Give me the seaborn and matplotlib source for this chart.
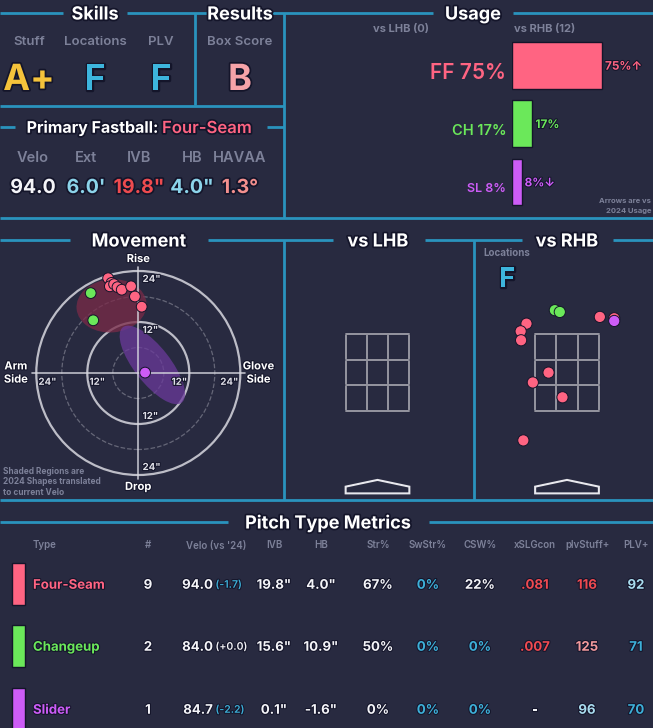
import numpy as np
import pandas as pd
import matplotlib
matplotlib.use('Agg')
import matplotlib.pyplot as plt
import matplotlib.patheffects as pe
from matplotlib.patches import Ellipse, Circle, Polygon, Rectangle
import seaborn as sns

# ---------------- data ----------------
pitch_codes = ['FF', 'CH', 'SL']
pitch_names = ['Four-Seam', 'Changeup', 'Slider']
pitch_colors = ['#ff6482', '#6be85a', '#cd5cf7']

# skills / results grades
grade_labels = ['Stuff', 'Locations', 'PLV']
grade_values = ['A+', 'F', 'F']
box_score = 'B'

# primary fastball summary
fb_labels = ['Velo', 'Ext', 'IVB', 'HB', 'HAVAA']
fb_values = ['94.0', "6.0'", '19.8"', '4.0"', '1.3°']

# usage vs RHB (%)
usage_rhb = [75, 17, 8]
usage_arrows = ['↑', '', '↓']
n_lhb = 0
n_rhb = 12

# movement: horizontal break (arm side +) and induced vertical break, inches
ff_hb = [7.1, 6.3, 6.7, 5.7, 4.9, 3.9, 1.7, 0.8, -0.8]
ff_ivb = [22.3, 21.2, 20.4, 20.9, 20.2, 19.6, 20.4, 18.0, 15.6]
ch_hb = [11.2, 10.6]
ch_ivb = [18.8, 12.4]
sl_hb = [-1.6]
sl_ivb = [0.1]

# 2024 shapes (center hb, center ivb, width, height, angle)
shape_ff = [6.3, 15.8, 16.5, 12.5, -5]
shape_sl = [-3.3, 1.9, 22.5, 8.5, 52]

# pitch locations vs RHB (plate_x, plate_z in ft)
ff_px = [0.73, 1.05, -0.90, -1.03, -1.02, -0.41, -0.76, -0.10, -0.97]
ff_pz = [3.69, 3.66, 3.54, 3.37, 3.17, 2.45, 2.23, 1.90, 0.94]
ch_px = [-0.27, -0.16]
ch_pz = [3.84, 3.80]
sl_px = [1.05]
sl_pz = [3.60]
loc_grade = 'F'

# pitch type metrics table
tbl_headers = ['Type', '#', "Velo (vs '24)", 'IVB', 'HB', 'Str%', 'SwStr%',
               'CSW%', 'xSLGcon', 'plvStuff+', 'PLV+']
tbl_count = [9, 2, 1]
tbl_velo = [94.0, 84.0, 84.7]
tbl_velo_diff = [-1.7, 0.0, -2.2]
tbl_ivb = [19.8, 15.6, 0.1]
tbl_hb = [4.0, 10.9, -1.6]
tbl_str = [67, 50, 0]
tbl_swstr = [0, 0, 0]
tbl_csw = [22, 0, 0]
tbl_xslg = ['.081', '.007', '-']
tbl_stuff = [116, 125, 96]
tbl_plv = [92, 71, 70]

# ---------------- style ----------------
BG = '#282a40'
LINE = '#2a93bd'
DARK = '#14152a'
GREY = '#7d8199'
WHITE = '#f4f4f8'
BLUE = '#3db0d8'
LBLUE = '#a9dcee'
RED = '#f04a50'
PINK = '#f39a9c'

sns.set_theme(style='dark', rc={'axes.facecolor': 'none', 'figure.facecolor': BG})
plt.rcParams['font.family'] = ['Inter', 'DejaVu Sans']

W, H = 653, 728
fig = plt.figure(figsize=(W / 100, H / 100), dpi=100)
fig.patch.set_facecolor(BG)

stroke = [pe.withStroke(linewidth=2.5, foreground=DARK)]
thin = [pe.withStroke(linewidth=1.5, foreground=DARK)]


def fax(x0, y0, x1, y1):
    ax = fig.add_axes([x0 / W, 1 - y1 / H, (x1 - x0) / W, (y1 - y0) / H])
    ax.set_facecolor('none')
    return ax


bg = fig.add_axes([0, 0, 1, 1])
bg.set_xlim(0, W)
bg.set_ylim(H, 0)
bg.axis('off')


def txt(x, y, s, size, **kw):
    # y is the visual centre of the capitals, in pixels from the top
    base = y + 0.36 * size * 100 / 72
    return bg.text(x, base, s, fontsize=size, va='baseline', **kw)


def hline(y, x0, x1):
    bg.plot([x0, x1], [y, y], color=LINE, lw=2, solid_capstyle='butt')


def vline(x, y0, y1):
    bg.plot([x, x], [y0, y1], color=LINE, lw=2, solid_capstyle='butt')


def title(x, y, s):
    txt(x, y, s, 13, ha='center', color='white', fontweight='bold', path_effects=stroke)


# ---- frame lines ----
hline(13, 0, 63); hline(13, 127, 210); hline(13, 270, 433); hline(13, 513, W)
vline(195, 13, 105); vline(284, 13, 218)
hline(106, 0, 284)
hline(127, 0, 15); hline(127, 267, 284)
hline(218, 0, W)
hline(240, 0, 70); hline(240, 208, 333); hline(240, 425, 522); hline(240, 613, W)
vline(284, 240, 500); vline(473.5, 240, 500)
hline(500, 0, W)
hline(522, 0, 228); hline(522, 429, W)

title(95, 13, 'Skills')
title(240, 13, 'Results')
title(473, 13, 'Usage')
title(139, 240, 'Movement')
title(378, 240, 'vs LHB')
title(567, 240, 'vs RHB')
title(328, 522, 'Pitch Type Metrics')

# ---- skills ----
grade_colors = {'A+': '#f5c33b', 'F': '#3db5dd', 'B': '#f6a3a8'}
for x, lab, g in zip([29, 95, 161], grade_labels, grade_values):
    txt(x, 40, lab, 9.5, ha='center', color=GREY, fontweight='semibold')
    txt(x, 77, g, 26, ha='center', color=grade_colors[g], fontweight='bold', path_effects=stroke)
txt(240, 40, 'Box Score', 9.5, ha='center', color=GREY, fontweight='semibold')
txt(240, 77, box_score, 26, ha='center', color=grade_colors[box_score],
    fontweight='bold', path_effects=stroke)

txt(162, 127, 'Primary Fastball: ', 11.5, ha='right', color='white',
    fontweight='bold', path_effects=stroke)
txt(162, 127, pitch_names[0], 12, ha='left', color=pitch_colors[0],
    fontweight='semibold', path_effects=stroke)

fb_colors = [WHITE, '#8cd4ea', '#ee4b4f', '#8cd4ea', '#f4908e']
for x, lab, v, c in zip([33, 86, 139, 192, 240], fb_labels, fb_values, fb_colors):
    txt(x, 157, lab, 10.5, ha='center', color=GREY, fontweight='semibold')
    txt(x, 186, v, 14, ha='center', color=c, fontweight='bold', path_effects=stroke)

# ---- usage ----
txt(401, 28, f'vs LHB ({n_lhb})', 8, ha='center', color=GREY, fontweight='bold')
txt(514, 28, f'vs RHB ({n_rhb})', 8, ha='left', color=GREY, fontweight='bold')

us = fax(512, 36, 632, 211)
usage_df = pd.DataFrame({'pitch': pitch_codes, 'usage': usage_rhb})
sns.barplot(data=usage_df, x='usage', y='pitch', hue='pitch', palette=pitch_colors,
            width=0.8, legend=False, ax=us, edgecolor=DARK, linewidth=1, saturation=1)
us.set_xlim(0, 100)
us.axis('off')
lab_sizes = [15, 10.5, 9]
for i, (code, u, arr) in enumerate(zip(pitch_codes, usage_rhb, usage_arrows)):
    us.text(-5, i + 0.1, f'{code} {u}%', ha='right', va='center_baseline', color=pitch_colors[i],
            fontsize=lab_sizes[i], fontweight='semibold', clip_on=False)
    us.text(u + 2.5, i, f'{u}%{arr}', ha='left', va='center_baseline', color=pitch_colors[i],
            fontsize=8.5, fontweight='bold', clip_on=False, path_effects=thin)
txt(651, 200, 'Arrows are vs', 5.5, ha='right', color=GREY, fontweight='bold')
txt(651, 210, '2024 Usage', 5.5, ha='right', color=GREY, fontweight='bold')

# ---- movement ----
mv = fax(10.8, 245.5, 265.8, 500.5)
for r, ls, lw, a in [(24, '-', 1.6, 0.85), (12, '-', 1.6, 0.85), (18, '--', 0.9, 0.35), (6, '--', 0.9, 0.35)]:
    mv.add_patch(Circle((0, 0), r, fill=False, ec='#d8d8e0', lw=lw, ls=ls, alpha=a))
mv.plot([-25, 25], [0, 0], color='#d8d8e0', lw=1.2, alpha=0.85)
mv.plot([0, 0], [-25, 25], color='#d8d8e0', lw=1.2, alpha=0.85)
mv.add_patch(Ellipse(shape_ff[:2], shape_ff[2], shape_ff[3], angle=shape_ff[4],
                     color='#7a2a48', alpha=0.75, lw=0))
mv.add_patch(Ellipse(shape_sl[:2], shape_sl[2], shape_sl[3], angle=shape_sl[4],
                     color='#6a3a9a', alpha=0.75, lw=0))
for r in [12, 24]:
    kw = dict(color='#e0e0e8', fontsize=7, fontweight='bold', path_effects=thin)
    mv.text(r - 0.5, -0.9, f'{r}"', ha='left', va='top', **kw)
    mv.text(-r + 0.5, -0.9, f'{r}"', ha='right', va='top', **kw)
    mv.text(-1.0, r - 0.7, f'{r}"', ha='left', va='top', **kw)
    mv.text(-1.0, -r + 0.7, f'{r}"', ha='left', va='bottom', **kw)
lkw = dict(color='white', fontsize=8, fontweight='bold', ha='center', va='center', path_effects=thin)
mv.text(0, 26.8, 'Rise', **lkw)
mv.text(0, -26.8, 'Drop', **lkw)
mv.text(28.8, 0, 'Arm\nSide', linespacing=1.4, **lkw)
mv.text(-28.3, 0, 'Glove\nSide', linespacing=1.4, **lkw)

mov_df = pd.DataFrame({
    'pitch': ['FF'] * len(ff_hb) + ['CH'] * len(ch_hb) + ['SL'] * len(sl_hb),
    'hb': ff_hb + ch_hb + sl_hb,
    'ivb': ff_ivb + ch_ivb + sl_ivb,
})
sns.scatterplot(data=mov_df, x='hb', y='ivb', hue='pitch', palette=pitch_colors,
                hue_order=pitch_codes, s=60, edgecolor=DARK, linewidth=0.7,
                legend=False, ax=mv, zorder=5)
mv.set_xlim(30, -30)
mv.set_ylim(-30, 30)
mv.axis('off')
bg.text(3, 482, 'Shaded Regions are\n2024 Shapes translated\nto current Velo', ha='left',
        va='center', color=GREY, fontsize=6, fontweight='bold', linespacing=1.25)

# ---- pitch locations ----
SZ_BOT, SZ_TOP, HALF = 1.6, 3.3, 0.708


def draw_zone(ax):
    ax.set_xlim(-2.0, 2.0)
    ax.set_ylim(-0.61, 5.18)
    ax.axis('off')
    xs = np.linspace(-HALF, HALF, 4)
    zs = np.linspace(SZ_BOT, SZ_TOP, 4)
    for x in xs:
        ax.plot([x, x], [SZ_BOT, SZ_TOP], color='#a0a0aa', lw=1.3, path_effects=thin)
    for z in zs:
        ax.plot([-HALF, HALF], [z, z], color='#a0a0aa', lw=1.3, path_effects=thin)
    plate = [(-HALF, -0.24), (HALF, -0.24), (HALF, -0.09), (0, 0.06), (-HALF, -0.09)]
    ax.add_patch(Polygon(plate, closed=True, fill=False, ec='#e8e8ee', lw=1.5, path_effects=thin))


lhb_ax = fax(287.5, 250, 467.5, 510)
draw_zone(lhb_ax)
rhb_ax = fax(477, 250, 657, 510)
draw_zone(rhb_ax)
loc_df = pd.DataFrame({
    'pitch': ['FF'] * len(ff_px) + ['CH'] * len(ch_px) + ['SL'] * len(sl_px),
    'px': ff_px + ch_px + sl_px,
    'pz': ff_pz + ch_pz + sl_pz,
})
sns.scatterplot(data=loc_df, x='px', y='pz', hue='pitch', palette=pitch_colors,
                hue_order=pitch_codes, s=65, edgecolor=DARK, linewidth=0.7,
                legend=False, ax=rhb_ax, zorder=5)
rhb_ax.set_xlim(-2.0, 2.0)
rhb_ax.set_ylim(-0.61, 5.18)
rhb_ax.axis('off')
txt(507, 253, 'Locations', 7, ha='center', color=GREY, fontweight='bold')
txt(507, 277, loc_grade, 19, ha='center', color=grade_colors[loc_grade],
    fontweight='bold', path_effects=stroke)

# ---- table ----
col_x = [33, 148, 216, 274, 321, 378, 428, 480, 535, 587, 636]
row_y = [584, 646, 709]
for i, (hdr, x) in enumerate(zip(tbl_headers, col_x)):
    txt(x, 545, hdr, 7, ha='left' if i == 0 else 'center', color=GREY, fontweight='semibold')

stuff_colors = [RED, PINK, LBLUE]
plv_colors = [LBLUE, BLUE, BLUE]
xslg_colors = [RED, RED, WHITE]
ckw = dict(fontweight='bold', path_effects=thin)
for i, y in enumerate(row_y):
    bg.add_patch(Rectangle((12, y - 21), 13, 42, facecolor=pitch_colors[i], edgecolor=DARK, lw=1))
    txt(col_x[0], y, pitch_names[i], 9.5, ha='left', color=pitch_colors[i], **ckw)
    txt(col_x[1], y, str(tbl_count[i]), 9.5, ha='center', color=WHITE, **ckw)
    txt(213, y, f'{tbl_velo[i]:.1f}', 9.5, ha='right', color=WHITE, **ckw)
    d = tbl_velo_diff[i]
    txt(215.5, y, f'({d:+.1f})', 7.5, ha='left', fontweight='semibold',
        color=BLUE if d < 0 else WHITE, path_effects=thin)
    txt(col_x[3], y, f'{tbl_ivb[i]:.1f}"', 9.5, ha='center', color=WHITE, **ckw)
    txt(col_x[4], y, f'{tbl_hb[i]:.1f}"', 9.5, ha='center', color=WHITE, **ckw)
    txt(col_x[5], y, f'{tbl_str[i]}%', 9.5, ha='center', color=WHITE, **ckw)
    txt(col_x[6], y, f'{tbl_swstr[i]}%', 9.5, ha='center', color=BLUE, **ckw)
    txt(col_x[7], y, f'{tbl_csw[i]}%', 9.5, ha='center', color=WHITE if tbl_csw[i] > 10 else BLUE, **ckw)
    txt(col_x[8], y, tbl_xslg[i], 9.5, ha='center', color=xslg_colors[i], **ckw)
    txt(col_x[9], y, str(tbl_stuff[i]), 9.5, ha='center', color=stuff_colors[i], **ckw)
    txt(col_x[10], y, str(tbl_plv[i]), 9.5, ha='center', color=plv_colors[i], **ckw)

fig.savefig('out.png', dpi=100, facecolor=BG)
